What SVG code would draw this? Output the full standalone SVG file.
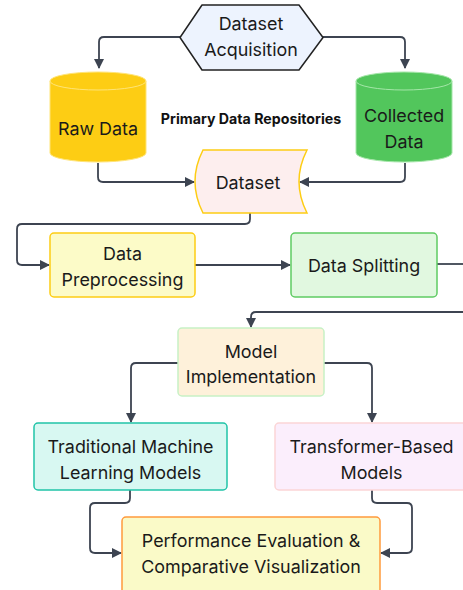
<svg xmlns="http://www.w3.org/2000/svg" width="463" height="590" viewBox="0 0 463 590">
  <defs>
    <marker id="arrow" viewBox="0 0 10 10" refX="9" refY="5" markerWidth="10" markerHeight="10" markerUnits="userSpaceOnUse" orient="auto">
      <path d="M0,0 L10,5 L0,10 Z" fill="#3d4451"/>
    </marker>
    <style>
      .lbl { font-family: Inter, "Liberation Sans", Arial, sans-serif; font-size: 17.9px; fill: #1a1a1a; text-anchor: middle; dominant-baseline: central; }
      .title { font-family: Inter, "Liberation Sans", Arial, sans-serif; font-size: 14.2px; font-weight: 700; fill: #111; text-anchor: middle; dominant-baseline: central; }
      .edge { fill: none; stroke: #3d4451; stroke-width: 1.8; stroke-linejoin: round; }
    </style>
  </defs>

  <rect width="463" height="590" fill="#ffffff"/>

  <!-- connectors -->
  <g id="connectors">
    <path class="edge" marker-end="url(#arrow)" d="M180,37 H104 Q99,37 99,42 V68"/>
    <path class="edge" marker-end="url(#arrow)" d="M323,37 H400 Q405,37 405,42 V68"/>
    <path class="edge" marker-end="url(#arrow)" d="M98,163 V177 Q98,182 103,182 H194"/>
    <path class="edge" marker-end="url(#arrow)" d="M405,163 V177 Q405,182 400,182 H300"/>
    <path class="edge" marker-end="url(#arrow)" d="M250,213 V219 Q250,224 245,224 H22 Q17,224 17,229 V260 Q17,265 22,265 H49"/>
    <path class="edge" marker-end="url(#arrow)" d="M195,265 H290"/>
    <path class="edge" d="M437,264 H463"/>
    <path class="edge" marker-end="url(#arrow)" d="M463,312 H256 Q251,312 251,317 V327"/>
    <path class="edge" marker-end="url(#arrow)" d="M178,363 H136 Q131,363 131,368 V422"/>
    <path class="edge" marker-end="url(#arrow)" d="M324,363 H367 Q372,363 372,368 V422"/>
    <path class="edge" marker-end="url(#arrow)" d="M130,490 V498 Q130,503 125,503 H95 Q90,503 90,508 V548 Q90,553 95,553 H121"/>
    <path class="edge" marker-end="url(#arrow)" d="M372,490 V498 Q372,503 377,503 H407 Q412,503 412,508 V548 Q412,553 407,553 H381"/>
  </g>

  <!-- Dataset Acquisition -->
  <g id="dataset-acquisition">
    <path d="M202,5 H299 L323,37.5 L299,70 H202 L180,37.5 Z" fill="#edf3fe" stroke="#222" stroke-width="1.5" stroke-linejoin="round"/>
    <text class="lbl" x="251" y="23">Dataset</text>
    <text class="lbl" x="251" y="49">Acquisition</text>
  </g>

  <!-- Raw Data -->
  <g id="raw-data">
    <path d="M50,81 A48,9 0 0,1 146,81 V153 A48,9 0 0,1 50,153 Z" fill="#fdcd14" stroke="#ffe477" stroke-width="1"/>
    <path d="M50,81 A48,9 0 0,0 146,81" fill="none" stroke="#ffe477" stroke-width="1"/>
    <text class="lbl" x="98" y="128">Raw Data</text>
  </g>

  <!-- Collected Data -->
  <g id="collected-data">
    <path d="M356,81 A48,9 0 0,1 452,81 V153 A48,9 0 0,1 356,153 Z" fill="#52c65c" stroke="#a4e6a8" stroke-width="1"/>
    <path d="M356,81 A48,9 0 0,0 452,81" fill="none" stroke="#a4e6a8" stroke-width="1"/>
    <text class="lbl" x="404" y="115">Collected</text>
    <text class="lbl" x="404" y="141">Data</text>
  </g>

  <!-- group title -->
  <g id="repositories-title">
    <text class="title" x="251" y="118">Primary Data Repositories</text>
  </g>

  <!-- Dataset -->
  <g id="dataset">
    <path d="M203,150 H307 Q291,181.5 307,213 H203 Q187,181.5 203,150 Z" fill="#fdeeee" stroke="#fdcd14" stroke-width="1.5"/>
    <text class="lbl" x="248" y="182">Dataset</text>
  </g>

  <!-- Data Preprocessing -->
  <g id="data-preprocessing">
    <rect x="50" y="233" width="145" height="64" rx="4" fill="#fcfbc8" stroke="#fdcd14" stroke-width="1.5"/>
    <text class="lbl" x="122.5" y="253">Data</text>
    <text class="lbl" x="122.5" y="279">Preprocessing</text>
  </g>

  <!-- Data Splitting -->
  <g id="data-splitting">
    <rect x="291" y="233" width="146" height="64" rx="4" fill="#e1f8e0" stroke="#5fcb63" stroke-width="1.5"/>
    <text class="lbl" x="364" y="265">Data Splitting</text>
  </g>

  <!-- Model Implementation -->
  <g id="model-implementation">
    <rect x="178" y="328" width="146" height="68" rx="4" fill="#fef1da" stroke="#c7f1c5" stroke-width="1.5"/>
    <text class="lbl" x="251" y="351">Model</text>
    <text class="lbl" x="251" y="376">Implementation</text>
  </g>

  <!-- Traditional ML Models -->
  <g id="traditional-models">
    <rect x="34" y="423" width="193" height="67" rx="4" fill="#d8f8f2" stroke="#20c4a8" stroke-width="1.5"/>
    <text class="lbl" x="130.5" y="446">Traditional Machine</text>
    <text class="lbl" x="130.5" y="472">Learning Models</text>
  </g>

  <!-- Transformer-Based Models -->
  <g id="transformer-models">
    <rect x="275" y="423" width="192" height="67" rx="4" fill="#fbeefc" stroke="#fbd5d6" stroke-width="1.5"/>
    <text class="lbl" x="371.5" y="446">Transformer-Based</text>
    <text class="lbl" x="371.5" y="472">Models</text>
  </g>

  <!-- Performance Evaluation -->
  <g id="performance-evaluation">
    <rect x="122" y="517" width="258" height="80" rx="4" fill="#fafac8" stroke="#ff9a3c" stroke-width="1.5"/>
    <text class="lbl" x="251" y="540">Performance Evaluation &amp;</text>
    <text class="lbl" x="251" y="566">Comparative Visualization</text>
  </g>
</svg>
